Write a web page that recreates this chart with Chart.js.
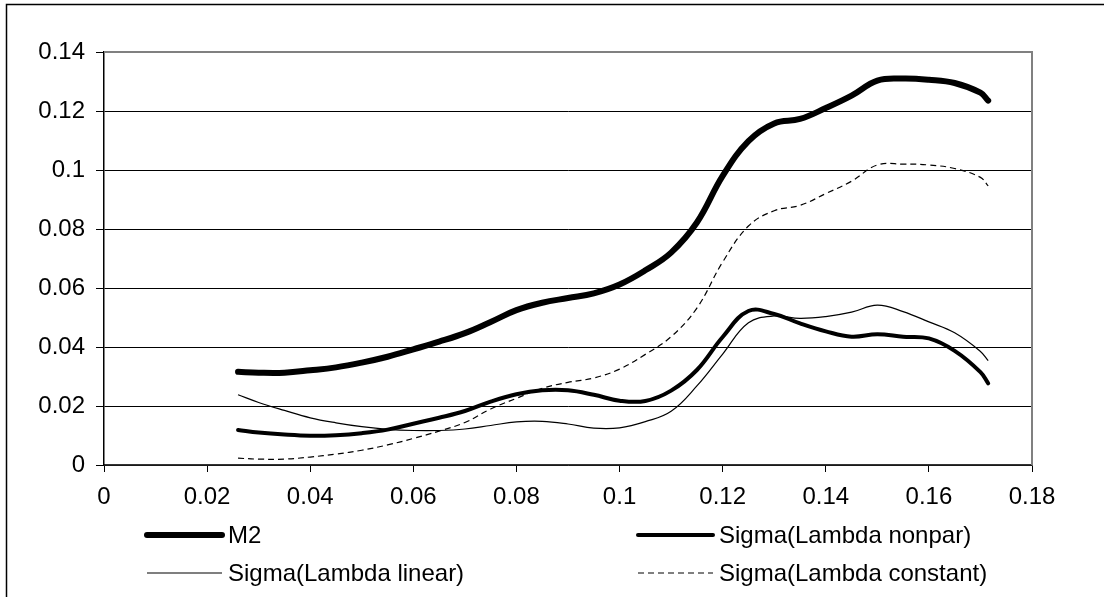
<!DOCTYPE html>
<html>
<head>
<meta charset="utf-8">
<script src="https://cdn.jsdelivr.net/npm/chart.js@4"></script>
<style>
    html, body { margin: 0; padding: 0; background: #fff; }
    canvas { display: block; }
</style>
</head>
<body>
<canvas id="chart" width="1104" height="597"></canvas>
<script>
// values
const xValues = [0.026, 0.03, 0.035, 0.04, 0.045, 0.05, 0.055, 0.06, 0.065, 0.07, 0.075, 0.08, 0.085, 0.09, 0.095,
    0.1, 0.105, 0.11, 0.115, 0.12, 0.125, 0.13, 0.135, 0.14, 0.145, 0.15, 0.155, 0.16, 0.165, 0.17, 0.1715];

const m2 = [0.0316, 0.0313, 0.0313, 0.0321, 0.0331, 0.0347, 0.0367, 0.0392, 0.0418, 0.0447, 0.0485, 0.0525, 0.0550, 0.0566, 0.0582,
    0.0612, 0.0660, 0.0720, 0.0822, 0.0980, 0.1098, 0.1158, 0.1173, 0.1210, 0.1252, 0.1303, 0.1310, 0.1306, 0.1295, 0.1262, 0.1235];

const sigmaNonpar = [0.0119, 0.0110, 0.0103, 0.0099, 0.0101, 0.0108, 0.0120, 0.0140, 0.0160, 0.0183, 0.0215, 0.0240, 0.0253, 0.0253, 0.0238,
    0.0218, 0.0217, 0.0252, 0.0322, 0.0434, 0.0522, 0.0512, 0.0480, 0.0453, 0.0435, 0.0443, 0.0435, 0.0429, 0.0387, 0.0315, 0.0277];

const sigmaLinear = [0.0238, 0.0212, 0.0185, 0.0160, 0.0143, 0.0130, 0.0121, 0.0117, 0.0117, 0.0122, 0.0134, 0.0146, 0.0148, 0.0139, 0.0125,
    0.0126, 0.0147, 0.0182, 0.0268, 0.0376, 0.0482, 0.0505, 0.0497, 0.0503, 0.0518, 0.0542, 0.0520, 0.0485, 0.0448, 0.0385, 0.0354];

const sigmaConstant = [0.0023, 0.0020, 0.0020, 0.0027, 0.0037, 0.0050, 0.0068, 0.0090, 0.0115, 0.0144, 0.0190, 0.0226, 0.0260, 0.0280, 0.0295,
    0.0325, 0.0375, 0.0435, 0.0532, 0.0688, 0.0810, 0.0862, 0.0880, 0.0920, 0.0962, 0.1017, 0.1020, 0.1017, 0.1005, 0.0975, 0.0946];

const seriesNames = ["M2", "Sigma(Lambda nonpar)", "Sigma(Lambda linear)", "Sigma(Lambda constant)"];

const xTickLabels = ["0", "0.02", "0.04", "0.06", "0.08", "0.1", "0.12", "0.14", "0.16", "0.18"];
const yTickLabels = ["0", "0.02", "0.04", "0.06", "0.08", "0.1", "0.12", "0.14"];

const FONT = '"Liberation Sans", Arial, sans-serif';
const FONT_SIZE = 24;

function points(ys) {
    return xValues.map((x, i) => ({ x: x, y: ys[i] }));
}

function makeDataset(label, ys, width, dash) {
    return {
        label: label,
        data: points(ys),
        borderColor: "#000",
        borderWidth: width,
        borderDash: dash,
        borderCapStyle: width > 2 ? "round" : "butt",
        borderJoinStyle: "round",
        pointRadius: 0,
        fill: false,
        tension: 0.4
    };
}

// frame, plot border and the two-column legend under the axis
const decorations = {
    id: "decorations",
    beforeDraw(chart) {
        const ctx = chart.ctx;
        ctx.save();
        ctx.fillStyle = "#fff";
        ctx.fillRect(0, 0, chart.width, chart.height);
        ctx.strokeStyle = "#000";
        ctx.lineWidth = 1.5;
        ctx.beginPath();
        ctx.moveTo(6.5, chart.height);
        ctx.lineTo(6.5, 4.5);
        ctx.lineTo(chart.width, 4.5);
        ctx.stroke();
        ctx.restore();
    },
    afterDraw(chart) {
        const ctx = chart.ctx;
        const area = chart.chartArea;
        ctx.save();

        ctx.strokeStyle = "#808080";
        ctx.lineWidth = 2;
        ctx.beginPath();
        ctx.moveTo(area.left, area.top);
        ctx.lineTo(area.right, area.top);
        ctx.lineTo(area.right, area.bottom);
        ctx.stroke();

        const slots = [
            { x: 147, y: 535 },
            { x: 638, y: 535 },
            { x: 147, y: 573 },
            { x: 638, y: 573 }
        ];
        ctx.font = FONT_SIZE + "px " + FONT;
        ctx.textBaseline = "middle";
        ctx.fillStyle = "#000";
        chart.data.datasets.forEach((ds, i) => {
            const s = slots[i];
            ctx.strokeStyle = ds.borderColor;
            ctx.lineWidth = ds.borderWidth;
            ctx.lineCap = ds.borderCapStyle;
            ctx.setLineDash(ds.borderDash || []);
            ctx.beginPath();
            ctx.moveTo(s.x, s.y);
            ctx.lineTo(s.x + 75, s.y);
            ctx.stroke();
            ctx.setLineDash([]);
            ctx.fillText(ds.label, s.x + 81, s.y + 1);
        });
        ctx.restore();
    }
};

new Chart(document.getElementById("chart"), {
    type: "line",
    data: {
        datasets: [
            makeDataset(seriesNames[0], m2, 6, []),
            makeDataset(seriesNames[1], sigmaNonpar, 4, []),
            makeDataset(seriesNames[2], sigmaLinear, 1.2, []),
            makeDataset(seriesNames[3], sigmaConstant, 1.2, [6, 4])
        ]
    },
    options: {
        responsive: false,
        animation: false,
        devicePixelRatio: 1,
        layout: {
            padding: { top: 52, right: 72, bottom: 0, left: 0 }
        },
        plugins: {
            legend: { display: false },
            tooltip: { enabled: false }
        },
        scales: {
            x: {
                type: "linear",
                min: 0,
                max: 0.18,
                afterFit: (scale) => { scale.height = 132; },
                ticks: {
                    stepSize: 0.02,
                    padding: 11,
                    color: "#000",
                    font: { family: FONT, size: FONT_SIZE },
                    maxRotation: 0,
                    callback: (v, i) => xTickLabels[i]
                },
                grid: {
                    drawOnChartArea: false,
                    drawTicks: true,
                    tickLength: 7,
                    color: "#000"
                },
                border: { color: "#333", width: 1.5 }
            },
            y: {
                min: 0,
                max: 0.14,
                afterFit: (scale) => { scale.width = 104; },
                ticks: {
                    stepSize: 0.02,
                    padding: 11,
                    color: "#000",
                    font: { family: FONT, size: FONT_SIZE },
                    callback: (v, i) => yTickLabels[i]
                },
                grid: {
                    color: "#000",
                    lineWidth: 1,
                    tickLength: 8
                },
                border: { color: "#000", width: 1.5 }
            }
        }
    },
    plugins: [decorations]
});
</script>
</body>
</html>
